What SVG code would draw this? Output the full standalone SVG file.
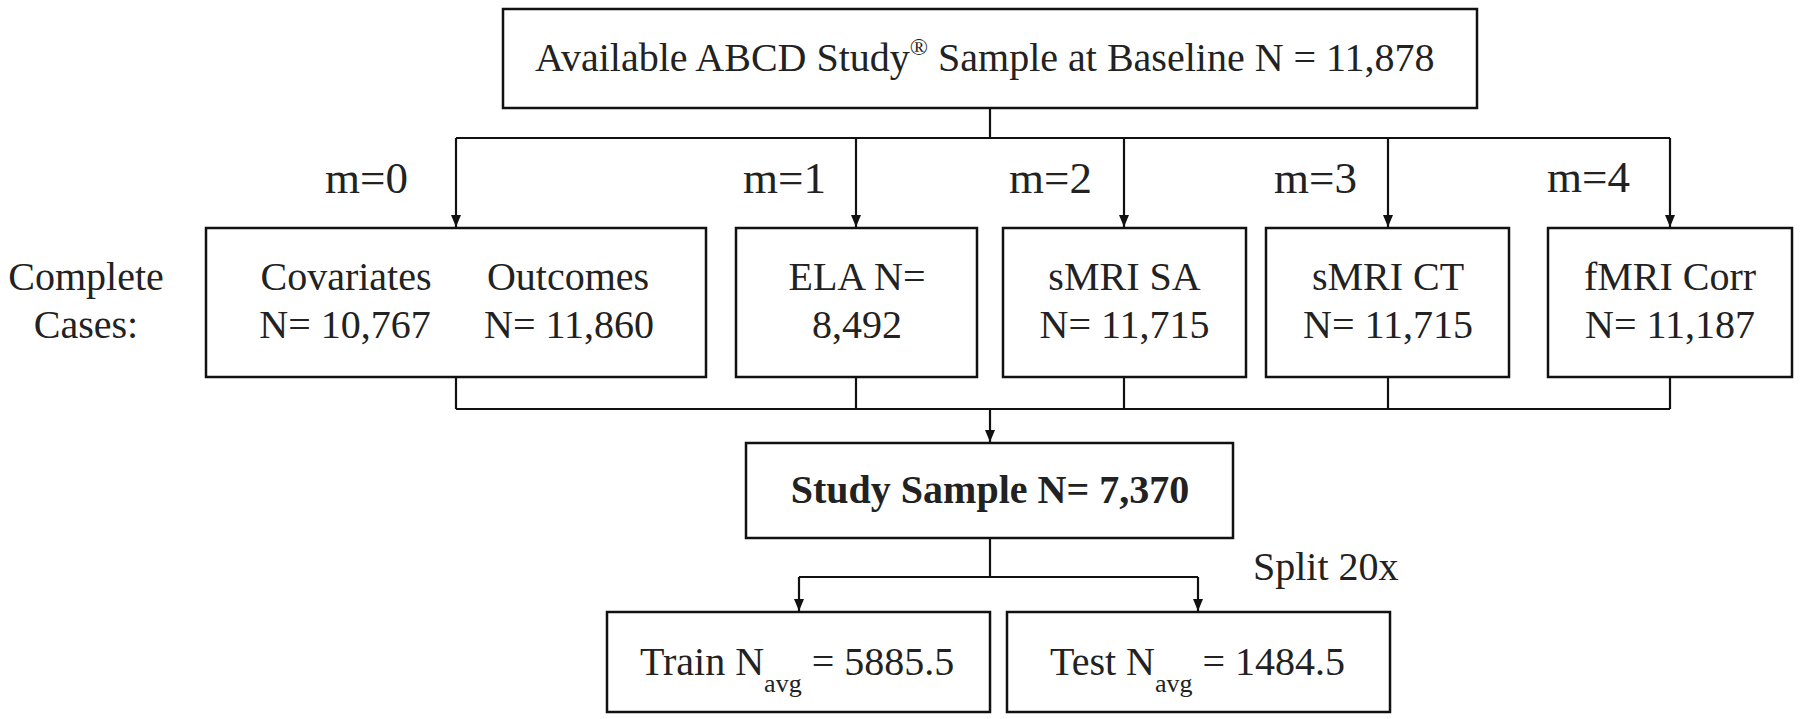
<svg xmlns="http://www.w3.org/2000/svg" width="1801" height="719" viewBox="0 0 1801 719">
<style>
.box{fill:#fff;stroke:#111;stroke-width:2.5}
.t{font-family:"Liberation Serif","Times New Roman",serif;font-size:40px;fill:#222;text-anchor:middle}
.m{font-family:"Liberation Serif","Times New Roman",serif;font-size:45px;fill:#222}
.b{font-weight:bold}
.c{fill:none;stroke:#111;stroke-width:2.2}
</style>
<defs>
<marker id="ah" viewBox="0 0 12 10" refX="12" refY="5" markerWidth="12" markerHeight="10" markerUnits="userSpaceOnUse" orient="auto">
<path d="M0,0 L12,5 L0,10 z" fill="#111"/>
</marker>
</defs>
<rect width="1801" height="719" fill="#fff"/>
<g id="connectors">
<path class="c" d="M990,108 V138 M456,138 H1670"/>
<path class="c" marker-end="url(#ah)" d="M456,138 V227"/>
<path class="c" marker-end="url(#ah)" d="M856,138 V227"/>
<path class="c" marker-end="url(#ah)" d="M1124,138 V227"/>
<path class="c" marker-end="url(#ah)" d="M1388,138 V227"/>
<path class="c" marker-end="url(#ah)" d="M1670,138 V227"/>
<path class="c" d="M456,377 V409 M856,377 V409 M1124,377 V409 M1388,377 V409 M1670,377 V409 M456,409 H1670"/>
<path class="c" marker-end="url(#ah)" d="M990,409 V442"/>
<path class="c" d="M990,538 V577 M799,577 H1198"/>
<path class="c" marker-end="url(#ah)" d="M799,577 V611"/>
<path class="c" marker-end="url(#ah)" d="M1198,577 V611"/>
</g>
<g id="labels">
<text class="m" x="325" y="193">m=0</text>
<text class="m" x="743" y="193">m=1</text>
<text class="m" x="1009" y="193">m=2</text>
<text class="m" x="1274" y="193">m=3</text>
<text class="m" x="1547" y="192">m=4</text>
<text class="t" x="86" y="290">Complete</text>
<text class="t" x="86" y="338">Cases:</text>
<text class="t" x="1253" y="580" style="text-anchor:start">Split 20x</text>
</g>
<g id="baseline">
<rect class="box" x="503" y="9" width="974" height="99"/>
<text class="t" x="535" y="71" style="text-anchor:start">Available ABCD Study<tspan font-size="24" dy="-16">®</tspan><tspan dy="16"> Sample at Baseline N = 11,878</tspan></text>
</g>
<g id="m0">
<rect class="box" x="206" y="228" width="500" height="149"/>
<text class="t" x="346" y="290">Covariates</text>
<text class="t" x="345" y="338">N= 10,767</text>
<text class="t" x="568" y="290">Outcomes</text>
<text class="t" x="569" y="338">N= 11,860</text>
</g>
<g id="m1">
<rect class="box" x="736" y="228" width="241" height="149"/>
<text class="t" x="857" y="290">ELA N=</text>
<text class="t" x="857" y="338">8,492</text>
</g>
<g id="m2">
<rect class="box" x="1003" y="228" width="243" height="149"/>
<text class="t" x="1124.5" y="290">sMRI SA</text>
<text class="t" x="1124.5" y="338">N= 11,715</text>
</g>
<g id="m3">
<rect class="box" x="1266" y="228" width="243" height="149"/>
<text class="t" x="1388" y="290">sMRI CT</text>
<text class="t" x="1388" y="338">N= 11,715</text>
</g>
<g id="m4">
<rect class="box" x="1548" y="228" width="244" height="149"/>
<text class="t" x="1670" y="290">fMRI Corr</text>
<text class="t" x="1670" y="338">N= 11,187</text>
</g>
<g id="study">
<rect class="box" x="746" y="443" width="487" height="95"/>
<text class="t b" x="990" y="503">Study Sample N= 7,370</text>
</g>
<g id="train">
<rect class="box" x="607" y="612" width="383" height="100"/>
<text class="t" x="640" y="675" style="text-anchor:start">Train N<tspan font-size="26" dy="17">avg</tspan><tspan dy="-17"> = 5885.5</tspan></text>
</g>
<g id="test">
<rect class="box" x="1007" y="612" width="383" height="100"/>
<text class="t" x="1050" y="675" style="text-anchor:start">Test N<tspan font-size="26" dy="17">avg</tspan><tspan dy="-17"> = 1484.5</tspan></text>
</g>
</svg>
